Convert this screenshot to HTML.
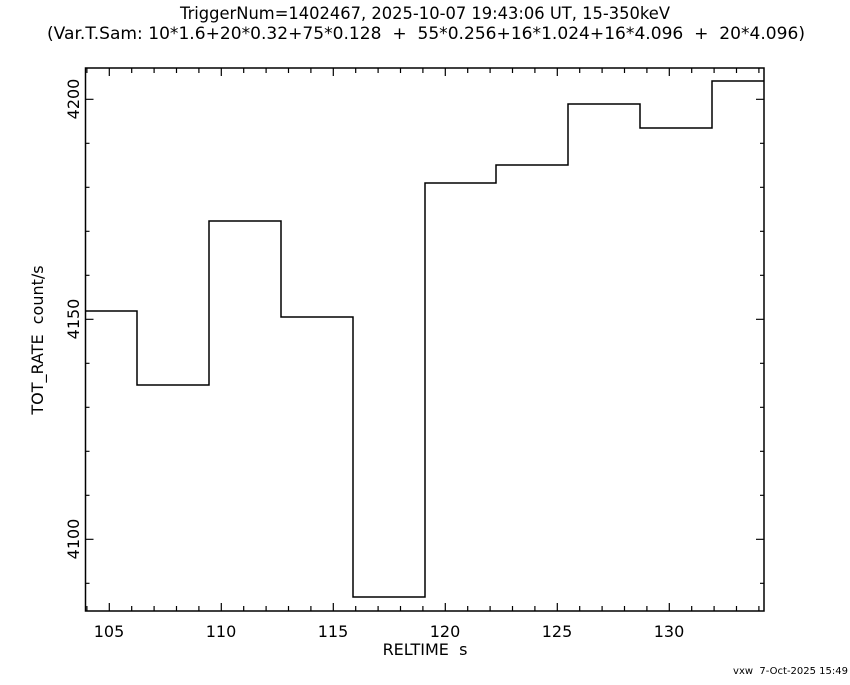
<!DOCTYPE html>
<html><head><meta charset="utf-8"><style>
body{margin:0;background:#fff}
svg text{font-family:"DejaVu Sans","Liberation Sans",sans-serif;fill:#000}
</style></head><body>
<svg width="850" height="680" viewBox="0 0 850 680" xmlns="http://www.w3.org/2000/svg">
<rect width="850" height="680" fill="#fff"/>
<text x="425" y="19" font-size="16.5" text-anchor="middle" textLength="490" lengthAdjust="spacingAndGlyphs">TriggerNum=1402467, 2025-10-07 19:43:06 UT, 15-350keV</text>
<text x="426" y="39" font-size="16.5" text-anchor="middle" xml:space="preserve" textLength="758" lengthAdjust="spacingAndGlyphs">(Var.T.Sam: 10*1.6+20*0.32+75*0.128  +  55*0.256+16*1.024+16*4.096  +  20*4.096)</text>
<rect x="85.5" y="68" width="678.5" height="543" fill="none" stroke="#000" stroke-width="1.5"/>
<path fill="none" stroke="#000" stroke-width="1.2" d="
M86.9,68v5 M109.3,68v8 M131.7,68v5 M154.1,68v5 M176.5,68v5 M198.9,68v5 M221.3,68v8 M243.7,68v5 M266.1,68v5 M288.5,68v5 M310.9,68v5 M333.3,68v8 M355.7,68v5 M378.1,68v5 M400.5,68v5 M422.9,68v5 M445.3,68v8 M467.7,68v5 M490.1,68v5 M512.5,68v5 M534.9,68v5 M557.3,68v8 M579.7,68v5 M602.1,68v5 M624.5,68v5 M646.9,68v5 M669.3,68v8 M691.7,68v5 M714.1,68v5 M736.5,68v5 M758.9,68v5
M86.9,611v-5 M109.3,611v-8 M131.7,611v-5 M154.1,611v-5 M176.5,611v-5 M198.9,611v-5 M221.3,611v-8 M243.7,611v-5 M266.1,611v-5 M288.5,611v-5 M310.9,611v-5 M333.3,611v-8 M355.7,611v-5 M378.1,611v-5 M400.5,611v-5 M422.9,611v-5 M445.3,611v-8 M467.7,611v-5 M490.1,611v-5 M512.5,611v-5 M534.9,611v-5 M557.3,611v-8 M579.7,611v-5 M602.1,611v-5 M624.5,611v-5 M646.9,611v-5 M669.3,611v-8 M691.7,611v-5 M714.1,611v-5 M736.5,611v-5 M758.9,611v-5
M85.5,583.3h4 M85.5,539.3h8 M85.5,495.3h4 M85.5,451.3h4 M85.5,407.3h4 M85.5,363.3h4 M85.5,319.3h8 M85.5,275.3h4 M85.5,231.3h4 M85.5,187.3h4 M85.5,143.3h4 M85.5,99.3h8
M764,583.3h-4 M764,539.3h-8 M764,495.3h-4 M764,451.3h-4 M764,407.3h-4 M764,363.3h-4 M764,319.3h-8 M764,275.3h-4 M764,231.3h-4 M764,187.3h-4 M764,143.3h-4 M764,99.3h-8"/>
<polyline fill="none" stroke="#000" stroke-width="1.5" points="86,311 137,311 137,385 209,385 209,221 281,221 281,317 353,317 353,597 425,597 425,183 496,183 496,165 568,165 568,104 640,104 640,128 712,128 712,81 764,81"/>
<g font-size="16" text-anchor="middle">
<text x="109" y="637">105</text><text x="221" y="637">110</text><text x="333" y="637">115</text><text x="445" y="637">120</text><text x="557" y="637">125</text><text x="669" y="637">130</text>
<text transform="translate(79,99) rotate(-90)">4200</text>
<text transform="translate(79,319) rotate(-90)">4150</text>
<text transform="translate(79,539) rotate(-90)">4100</text>
<text x="425" y="655" xml:space="preserve">RELTIME  s</text>
<text transform="translate(43,340) rotate(-90)" xml:space="preserve">TOT_RATE  count/s</text>
</g>
<text x="848" y="674" font-size="10" text-anchor="end" xml:space="preserve">vxw  7-Oct-2025 15:49</text>
</svg>
</body></html>
